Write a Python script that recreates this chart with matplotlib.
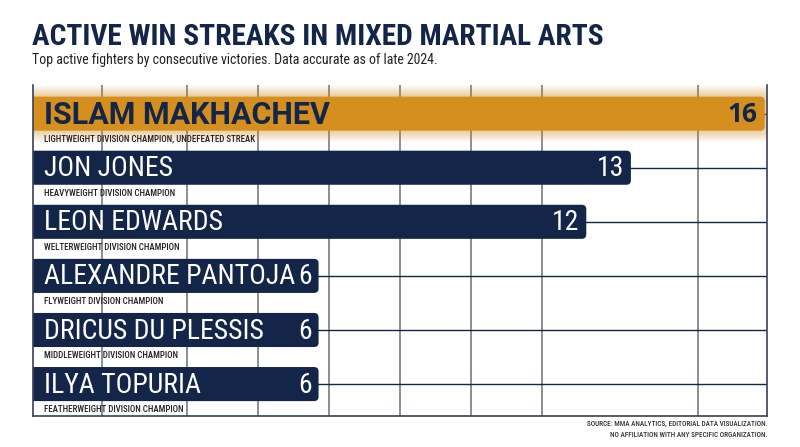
import matplotlib
matplotlib.use("Agg")
import matplotlib.pyplot as plt
from matplotlib.patches import FancyBboxPatch

fighters = ["ISLAM MAKHACHEV", "JON JONES", "LEON EDWARDS",
            "ALEXANDRE PANTOJA", "DRICUS DU PLESSIS", "ILYA TOPURIA"]
streaks = [16, 13, 12, 6, 6, 6]
notes = ["LIGHTWEIGHT DIVISION CHAMPION, UNDEFEATED STREAK",
         "HEAVYWEIGHT DIVISION CHAMPION",
         "WELTERWEIGHT DIVISION CHAMPION",
         "FLYWEIGHT DIVISION CHAMPION",
         "MIDDLEWEIGHT DIVISION CHAMPION",
         "FEATHERWEIGHT DIVISION CHAMPION"]
grid_ticks = [1.15, 3.05, 4.64, 6.23, 7.82, 9.42, 11.01, 14.5]

NAVY = "#14254a"
ORANGE = "#d58f1f"
GRIDGRAY = "#6e6e7a"
COND = ["Roboto Condensed", "DejaVu Sans"]

fig = plt.figure(figsize=(8, 4.47), dpi=100)
ax = fig.add_axes([0.04125, 0.0694, 0.9175, 0.7405])

x0, x1 = -0.4, 16.05
ax.set_xlim(x0, x1)
ax.set_ylim(5.59, -0.53)

# gridlines
for t in grid_ticks:
    ax.axvline(t, color=GRIDGRAY, lw=1.1, zorder=0)
for i in range(len(fighters)):
    ax.axhline(i, color=NAVY, lw=1.0, zorder=0)

ax.spines["top"].set_visible(False)
for s in ["left", "right", "bottom"]:
    ax.spines[s].set_color("#3a3f55")
    ax.spines[s].set_linewidth(1.2)
ax.set_xticks([])
ax.set_yticks([])

h = 0.63
aspect = (1 / 54.0) / (1 / 44.62)
for i, (name, val, note) in enumerate(zip(fighters, streaks, notes)):
    top = i == 0
    color = ORANGE if top else NAVY
    if top:
        # soft glow around the leader
        for k in range(8, 0, -1):
            e = k * 0.03
            glow = FancyBboxPatch((x0 - 1, i - h / 2 - e * aspect), val - x0 + 1 + e, h + 2 * e * aspect,
                                  boxstyle="round,pad=0,rounding_size=0.2",
                                  mutation_aspect=aspect, fc=ORANGE, ec="none",
                                  alpha=0.06, zorder=1)
            ax.add_patch(glow)
    bar = FancyBboxPatch((x0 - 1, i - h / 2), val - x0 + 1, h,
                         boxstyle="round,pad=0,rounding_size=0.1",
                         mutation_aspect=aspect, fc=color, ec="none", zorder=2)
    ax.add_patch(bar)
    if top:
        ax.text(-0.15, i + 0.02, name, color=NAVY, fontsize=22, fontweight="bold",
                family=["Roboto", "DejaVu Sans"], va="center", ha="left", zorder=3)
        ax.text(val - 0.17, i + 0.02, str(val), color=NAVY, fontsize=19, fontweight="bold",
                family=["Open Sans", "DejaVu Sans"], va="center", ha="right", zorder=3)
    else:
        ax.text(-0.15, i + 0.02, name, color="white", fontsize=20,
                family=COND, va="center", ha="left", zorder=3)
        ax.text(val - 0.15, i + 0.02, str(val), color="white", fontsize=20,
                family=COND, va="center", ha="right", zorder=3)
    ax.text(-0.15, i + 0.47, note, color="#222222", fontsize=6.4, fontweight="medium",
            family=COND, va="center", ha="left", zorder=3)

fig.text(0.04, 0.917, "ACTIVE WIN STREAKS IN MIXED MARTIAL ARTS", color=NAVY,
         fontsize=21.2, fontweight="bold", family=COND, va="center", ha="left")
fig.text(0.04, 0.866, "Top active fighters by consecutive victories. Data accurate as of late 2024.",
         color="#222222", fontsize=10, family=COND, va="center", ha="left")
fig.text(0.959, 0.06, "SOURCE: MMA ANALYTICS, EDITORIAL DATA VISUALIZATION.\nNO AFFILIATION WITH ANY SPECIFIC ORGANIZATION.",
         color="#333333", fontsize=5.2, fontweight="medium", family=COND, va="top", ha="right",
         linespacing=1.5, multialignment="right")

fig.savefig("out.png", dpi=100, facecolor="white")
